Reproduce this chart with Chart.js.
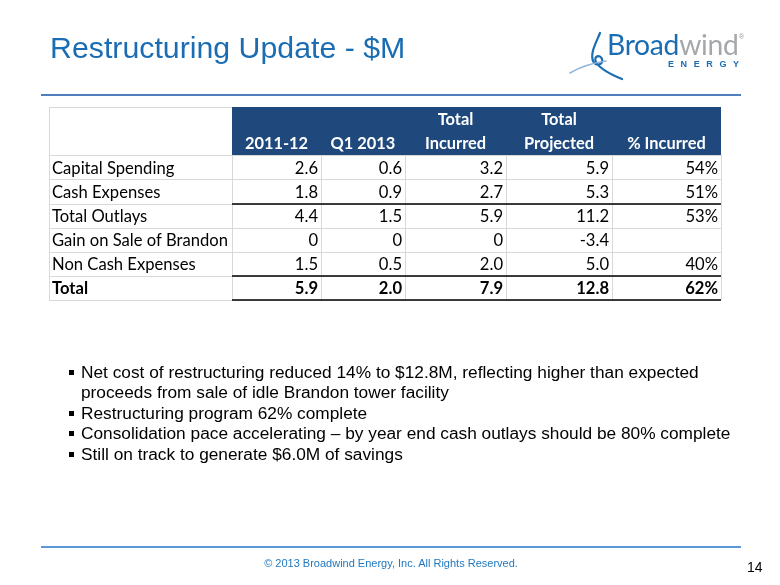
<!DOCTYPE html>
<html>
<head>
<meta charset="utf-8">
<script src="https://cdn.jsdelivr.net/npm/chart.js@4.4.1/dist/chart.umd.min.js"></script>
<style>
  html, body { margin:0; padding:0; background:#ffffff; }
  #page { position:relative; width:780px; height:585px; overflow:hidden; background:#fff; }
  #chartWrap { position:absolute; left:0; top:0; width:780px; height:585px; }
  .abs { position:absolute; white-space:nowrap; }
  #title { left:50px; top:33px; font:30.3px/1 "Liberation Sans", Arial, sans-serif; color:#1b6db3; }
  .rule { position:absolute; left:41px; width:700px; height:2px; }
  #bullets { position:absolute; left:81px; top:362px; margin:0; padding:0; list-style:none;
             font:17.3px/20.4px "Liberation Sans", Arial, sans-serif; color:#000; }
  #bullets li { position:relative; white-space:nowrap; }
  #bullets li::before { content:""; position:absolute; left:-12px; top:8px; width:5px; height:5px; background:#000; }
  #footer { left:0; width:782px; text-align:center; top:558px; font:11px/1 "Liberation Sans", Arial, sans-serif; color:#2179c0; }
  #pagenum { left:747px; top:560px; font:14px/1 "Liberation Sans", Arial, sans-serif; color:#000; }
  #logoText { left:607px; top:30px; font:28.3px/1 Lato, "Liberation Sans", sans-serif; letter-spacing:-0.3px; }
  #energy { left:668px; top:60px; font:bold 9px/1 "Liberation Sans", Arial, sans-serif; color:#1b6db3; letter-spacing:6.6px; }
  #reg { left:739px; top:33px; font:7px/1 "Liberation Sans", Arial, sans-serif; color:#999; }
</style>
</head>
<body>
<div id="page">
  <div id="chartWrap"><canvas id="c" width="780" height="585"></canvas></div>
  <div id="title" class="abs">Restructuring Update - $M</div>
  <div class="rule" style="top:94px;background:#4f7fbf;"></div>
  <svg class="abs" style="left:560px;top:25px" width="70" height="60" viewBox="0 0 70 60">
    <path d="M40 8 C36 18, 30 28, 33 36 C35 42, 44 40, 42 34 C40 29, 33 31, 36 37 C40 44, 52 50, 62 54" fill="none" stroke="#1b6db3" stroke-width="2.2" stroke-linecap="round"/>
    <path d="M10 48 C20 42, 32 38, 46 36" fill="none" stroke="#8fb6da" stroke-width="1.6" stroke-linecap="round"/>
  </svg>
  <div id="logoText" class="abs"><span style="color:#1b6db3">Broad</span><span style="color:#a5a8ab">wind</span></div>
  <div id="reg" class="abs">®</div>
  <div id="energy" class="abs">ENERGY</div>
  <ul id="bullets">
    <li>Net cost of restructuring reduced 14% to $12.8M, reflecting higher than expected<br>proceeds from sale of idle Brandon tower facility</li>
    <li>Restructuring program 62% complete</li>
    <li>Consolidation pace accelerating – by year end cash outlays should be 80% complete</li>
    <li>Still on track to generate $6.0M of savings</li>
  </ul>
  <div class="rule" style="top:546px;background:#5a9bd5;"></div>
  <div id="footer" class="abs">© 2013 Broadwind Energy, Inc. All Rights Reserved.</div>
  <div id="pagenum" class="abs">14</div>
</div>
<script>
// ---- data ----
const rowLabels = ['Capital Spending', 'Cash Expenses', 'Total Outlays', 'Gain on Sale of Brandon', 'Non Cash Expenses', 'Total'];
const columnHeaders = [['', '2011-12'], ['', 'Q1 2013'], ['Total', 'Incurred'], ['Total', 'Projected'], ['', '% Incurred']];
const fy2011_12 = [2.6, 1.8, 4.4, 0, 1.5, 5.9];
const q1_2013 = [0.6, 0.9, 1.5, 0, 0.5, 2.0];
const totalIncurred = [3.2, 2.7, 5.9, 0, 2.0, 7.9];
const totalProjected = [5.9, 5.3, 11.2, -3.4, 5.0, 12.8];
const pctIncurred = [54, 51, 53, null, 40, 62];

// ---- layout (column edges in table units) ----
const colEdges = [0, 183, 272, 356, 457, 563, 672];
const headerBands = 2;
const yLabels = ['hdr1', 'hdr2'].concat(rowLabels);
const columns = [fy2011_12, q1_2013, totalIncurred, totalProjected, pctIncurred];
const isPct = [false, false, false, false, true];

function fmt(v, pct) {
  if (v === null || v === undefined) return '';
  if (pct) return v + '%';
  if (v === 0) return '0';
  return v.toFixed(1);
}

const FONT = 'Lato, "Liberation Sans", sans-serif';

const tablePlugin = {
  id: 'tablePlugin',
  afterDatasetsDraw(chart) {
    const ctx = chart.ctx;
    const xs = chart.scales.x, ys = chart.scales.y;
    const X = i => Math.round(xs.getPixelForValue(colEdges[i]));
    const bandH = ys.getPixelForValue(1) - ys.getPixelForValue(0);
    const top = r => Math.round(ys.getPixelForValue(r) - bandH / 2);
    const bot = r => Math.round(ys.getPixelForValue(r) + bandH / 2);
    const nRows = yLabels.length;
    ctx.save();
    // header background
    ctx.fillStyle = '#1f497d';
    ctx.fillRect(X(1), top(0), X(colEdges.length - 1) - X(1), bot(headerBands - 1) - top(0));
    // light grid
    ctx.strokeStyle = '#d9d9d9';
    ctx.lineWidth = 1;
    ctx.beginPath();
    ctx.moveTo(X(0) + 0.5, top(0)); ctx.lineTo(X(0) + 0.5, bot(nRows - 1));
    ctx.moveTo(X(0), top(0) + 0.5); ctx.lineTo(X(1), top(0) + 0.5);
    for (let r = headerBands; r <= nRows; r++) {
      const yy = (r < nRows ? top(r) : bot(nRows - 1)) + 0.5;
      ctx.moveTo(X(0), yy); ctx.lineTo(X(colEdges.length - 1), yy);
    }
    for (let c = 1; c < colEdges.length; c++) {
      ctx.moveTo(X(c) + 0.5, top(headerBands)); ctx.lineTo(X(c) + 0.5, bot(nRows - 1));
    }
    ctx.stroke();
    // black accent lines
    ctx.strokeStyle = '#000';
    ctx.lineWidth = 1.5;
    ctx.beginPath();
    const blackAt = [bot(headerBands + 1), top(nRows - 1), bot(nRows - 1)];
    blackAt.forEach(yy => { ctx.moveTo(X(1), yy); ctx.lineTo(X(colEdges.length - 1), yy); });
    ctx.stroke();

    // header text
    ctx.fillStyle = '#ffffff';
    ctx.font = 'bold 16.4px ' + FONT;
    ctx.textAlign = 'center';
    ctx.textBaseline = 'middle';
    columnHeaders.forEach((h, c) => {
      const cx = (X(c + 1) + X(c + 2)) / 2;
      h.forEach((line, k) => {
        if (line) ctx.fillText(line, cx, ys.getPixelForValue(k) + 1);
      });
    });
    // body
    ctx.fillStyle = '#000';
    rowLabels.forEach((lab, r) => {
      const yy = ys.getPixelForValue(r + headerBands) + 1;
      const bold = r === rowLabels.length - 1;
      ctx.font = (bold ? 'bold ' : '') + '16.6px ' + FONT;
      ctx.textAlign = 'left';
      ctx.fillText(lab, X(0) + 3, yy);
      ctx.textAlign = 'right';
      columns.forEach((col, c) => {
        ctx.fillText(fmt(col[r], isPct[c]), X(c + 2) - 3, yy);
      });
    });
    ctx.restore();
  }
};

const datasets = columns.map((col, c) => ({
  label: columnHeaders[c].join(' ').trim(),
  data: [null, null].concat(col),
  backgroundColor: 'rgba(0,0,0,0)',
  borderWidth: 0
}));

new Chart(document.getElementById('c'), {
  type: 'bar',
  data: { labels: yLabels, datasets: datasets },
  options: {
    indexAxis: 'y',
    responsive: false,
    animation: false,
    devicePixelRatio: 1,
    layout: { padding: { left: 49, right: 59, top: 107, bottom: 285 } },
    scales: {
      x: { type: 'linear', min: 0, max: 672, display: false },
      y: { type: 'category', display: false, offset: true }
    },
    plugins: { legend: { display: false }, tooltip: { enabled: false }, title: { display: false } }
  },
  plugins: [tablePlugin]
});
</script>
</body>
</html>
